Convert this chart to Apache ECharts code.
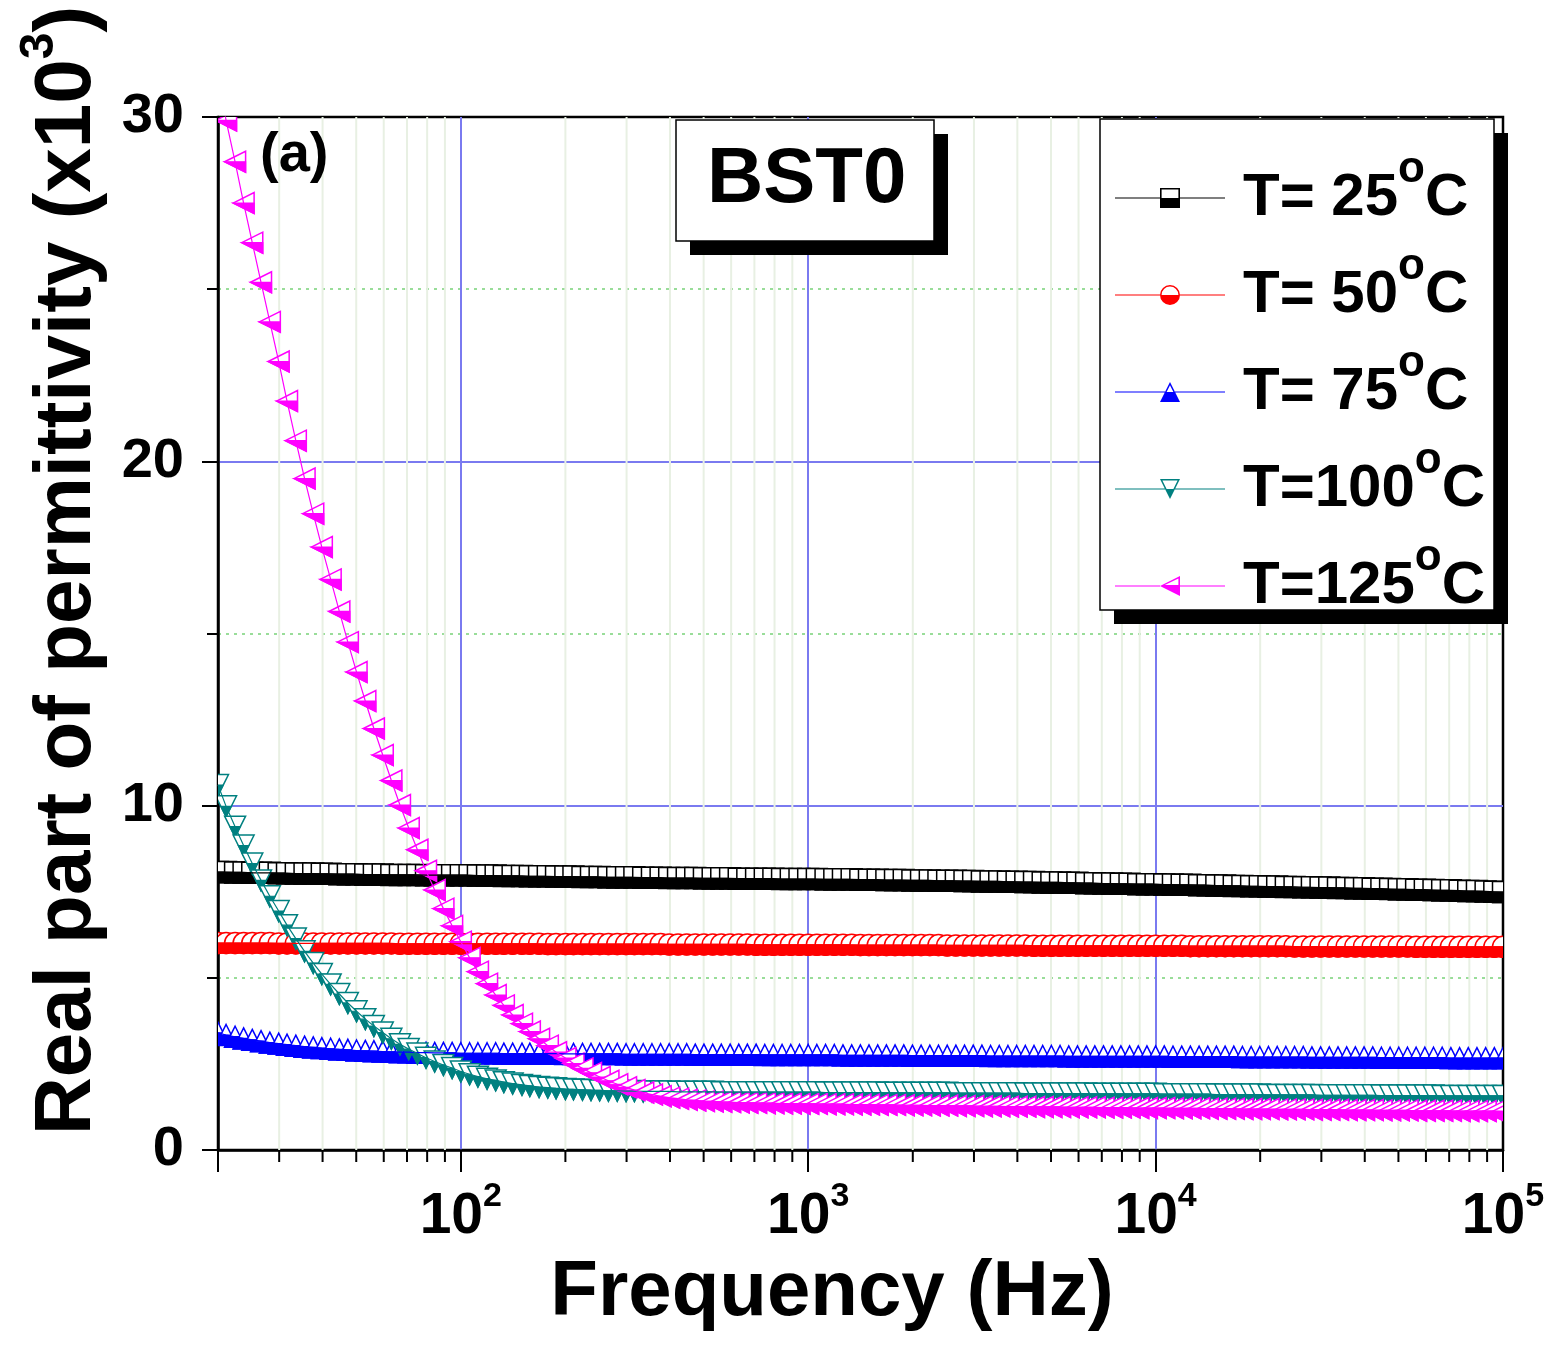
<!DOCTYPE html>
<html>
<head>
<meta charset="utf-8">
<title>BST0 real permittivity vs frequency</title>
<script src="https://cdn.jsdelivr.net/npm/echarts@6/dist/echarts.min.js"></script>
<style>
  html, body { margin: 0; padding: 0; background: #ffffff; }
  #chart { width: 1553px; height: 1347px; }
</style>
</head>
<body>
<div id="chart"></div>
<script>
// Measurement frequencies (Hz), 40 points per decade from 20 Hz to 100 kHz
const freqHz = [
  20, 21.1, 22.4, 23.7, 25.1, 26.6, 28.2, 29.9, 31.6, 33.5, 35.5, 37.6, 39.8, 42.2,
  44.7, 47.3, 50.1, 53.1, 56.2, 59.6, 63.1, 66.8, 70.8, 75.0, 79.4, 84.1, 89.1, 94.4,
  100, 106, 112, 119, 126, 133, 141, 150, 158, 168, 178, 188, 200, 211, 224, 237, 251, 266, 282, 299,
  316, 335, 355, 376, 398, 422, 447, 473, 501, 531, 562, 596, 631, 668, 708, 750, 794, 841, 891, 944,
  1000, 1059, 1122, 1189, 1259, 1334, 1413, 1496, 1585, 1679, 1778, 1884, 1995, 2113, 2239, 2371, 2512, 2661, 2818, 2985,
  3162, 3350, 3548, 3758, 3981, 4217, 4467, 4732, 5012, 5309, 5623, 5957, 6310, 6683, 7079, 7499, 7943, 8414, 8913, 9441,
  10000, 10590, 11220, 11890, 12590, 13340, 14130, 14960, 15850, 16790, 17780, 18840, 19950, 21130, 22390, 23710, 25120, 26610, 28180, 29850,
  31620, 33500, 35480, 37580, 39810, 42170, 44670, 47320, 50120, 53090, 56230, 59570, 63100, 66830, 70790, 74990, 79430, 84140, 89130, 94410,
  100000
];

// Real part of permittivity (x10^3) at each frequency
const epsT25 = [
  8.07, 8.07, 8.06, 8.06, 8.05, 8.05, 8.05, 8.04, 8.04, 8.03, 8.03, 8.03, 8.02, 8.02,
  8.01, 8.01, 8.01, 8.00, 8.00, 8.00, 7.99, 7.99, 7.99, 7.99, 7.98, 7.98, 7.98, 7.98,
  7.98, 7.98, 7.97, 7.97, 7.97, 7.96, 7.96, 7.96, 7.95, 7.95, 7.95, 7.94, 7.94, 7.94, 7.93, 7.93, 7.93, 7.92, 7.92, 7.92,
  7.92, 7.91, 7.91, 7.91, 7.90, 7.90, 7.90, 7.90, 7.89, 7.89, 7.89, 7.89, 7.88, 7.88, 7.88, 7.88, 7.88, 7.87, 7.87, 7.87,
  7.87, 7.87, 7.86, 7.86, 7.86, 7.86, 7.85, 7.85, 7.85, 7.84, 7.84, 7.84, 7.83, 7.83, 7.83, 7.82, 7.82, 7.82, 7.81, 7.81,
  7.80, 7.80, 7.80, 7.79, 7.79, 7.78, 7.78, 7.77, 7.77, 7.77, 7.76, 7.76, 7.75, 7.75, 7.74, 7.74, 7.73, 7.73, 7.72, 7.72,
  7.72, 7.71, 7.71, 7.70, 7.70, 7.69, 7.69, 7.68, 7.68, 7.67, 7.67, 7.66, 7.66, 7.65, 7.65, 7.64, 7.64, 7.63, 7.63, 7.62,
  7.62, 7.61, 7.61, 7.60, 7.60, 7.59, 7.59, 7.58, 7.57, 7.57, 7.56, 7.56, 7.55, 7.54, 7.54, 7.53, 7.52, 7.52, 7.51, 7.50,
  7.49
];
const epsT50 = [
  6.01, 6.01, 6.01, 6.01, 6.01, 6.01, 6.01, 6.00, 6.00, 6.00, 6.00, 6.00, 6.00, 6.00,
  6.00, 6.00, 6.00, 6.00, 6.00, 6.00, 6.00, 5.99, 5.99, 5.99, 5.99, 5.99, 5.99, 5.99,
  5.99, 5.99, 5.99, 5.99, 5.99, 5.99, 5.99, 5.99, 5.99, 5.99, 5.98, 5.98, 5.98, 5.98, 5.98, 5.98, 5.98, 5.98, 5.98, 5.98,
  5.98, 5.98, 5.98, 5.98, 5.97, 5.97, 5.97, 5.97, 5.97, 5.97, 5.97, 5.97, 5.97, 5.97, 5.96, 5.96, 5.96, 5.96, 5.96, 5.96,
  5.96, 5.96, 5.96, 5.96, 5.96, 5.96, 5.95, 5.95, 5.95, 5.95, 5.95, 5.95, 5.95, 5.95, 5.95, 5.95, 5.94, 5.94, 5.94, 5.94,
  5.94, 5.94, 5.94, 5.94, 5.94, 5.94, 5.93, 5.93, 5.93, 5.93, 5.93, 5.93, 5.93, 5.93, 5.93, 5.93, 5.93, 5.93, 5.93, 5.93,
  5.93, 5.93, 5.93, 5.93, 5.92, 5.92, 5.92, 5.92, 5.92, 5.92, 5.92, 5.92, 5.92, 5.92, 5.92, 5.92, 5.91, 5.91, 5.91, 5.91,
  5.91, 5.91, 5.91, 5.91, 5.91, 5.91, 5.91, 5.91, 5.91, 5.91, 5.90, 5.90, 5.90, 5.90, 5.90, 5.90, 5.90, 5.90, 5.90, 5.90,
  5.90
];
const epsT75 = [
  3.40, 3.34, 3.29, 3.24, 3.20, 3.16, 3.12, 3.09, 3.06, 3.03, 3.00, 2.98, 2.96, 2.94,
  2.92, 2.91, 2.89, 2.88, 2.87, 2.86, 2.85, 2.84, 2.84, 2.83, 2.83, 2.82, 2.82, 2.82,
  2.81, 2.81, 2.81, 2.81, 2.81, 2.80, 2.80, 2.80, 2.80, 2.80, 2.80, 2.80, 2.79, 2.79, 2.79, 2.79, 2.79, 2.79, 2.79, 2.78,
  2.78, 2.78, 2.78, 2.78, 2.78, 2.78, 2.78, 2.77, 2.77, 2.77, 2.77, 2.77, 2.77, 2.77, 2.77, 2.76, 2.76, 2.76, 2.76, 2.76,
  2.76, 2.76, 2.76, 2.76, 2.75, 2.75, 2.75, 2.75, 2.75, 2.75, 2.75, 2.75, 2.74, 2.74, 2.74, 2.74, 2.74, 2.74, 2.74, 2.74,
  2.74, 2.73, 2.73, 2.73, 2.73, 2.73, 2.73, 2.73, 2.73, 2.73, 2.72, 2.72, 2.72, 2.72, 2.72, 2.72, 2.72, 2.72, 2.72, 2.72,
  2.72, 2.72, 2.71, 2.71, 2.71, 2.71, 2.71, 2.71, 2.71, 2.71, 2.70, 2.70, 2.70, 2.70, 2.70, 2.70, 2.70, 2.70, 2.69, 2.69,
  2.69, 2.69, 2.69, 2.69, 2.69, 2.69, 2.68, 2.68, 2.68, 2.68, 2.68, 2.68, 2.68, 2.68, 2.67, 2.67, 2.67, 2.67, 2.67, 2.67,
  2.67
];
const epsT100 = [
  10.60, 9.98, 9.39, 8.84, 8.32, 7.83, 7.37, 6.94, 6.53, 6.14, 5.77, 5.43, 5.11, 4.81,
  4.53, 4.27, 4.03, 3.80, 3.60, 3.41, 3.23, 3.07, 2.93, 2.80, 2.68, 2.57, 2.47, 2.38,
  2.28, 2.20, 2.13, 2.07, 2.02, 1.97, 1.93, 1.89, 1.86, 1.83, 1.81, 1.79, 1.77, 1.76, 1.75, 1.74, 1.73, 1.72, 1.72, 1.71,
  1.71, 1.70, 1.70, 1.70, 1.70, 1.69, 1.69, 1.69, 1.69, 1.69, 1.68, 1.68, 1.68, 1.68, 1.68, 1.68, 1.68, 1.68, 1.68, 1.68,
  1.68, 1.68, 1.67, 1.67, 1.67, 1.67, 1.67, 1.67, 1.67, 1.66, 1.66, 1.66, 1.66, 1.66, 1.66, 1.66, 1.66, 1.65, 1.65, 1.65,
  1.65, 1.65, 1.65, 1.65, 1.65, 1.64, 1.64, 1.64, 1.64, 1.64, 1.64, 1.64, 1.64, 1.63, 1.63, 1.63, 1.63, 1.63, 1.63, 1.63,
  1.63, 1.62, 1.62, 1.62, 1.62, 1.62, 1.62, 1.61, 1.61, 1.61, 1.61, 1.61, 1.61, 1.60, 1.60, 1.60, 1.60, 1.60, 1.60, 1.59,
  1.59, 1.59, 1.59, 1.59, 1.59, 1.59, 1.58, 1.58, 1.58, 1.58, 1.58, 1.58, 1.58, 1.57, 1.57, 1.57, 1.57, 1.57, 1.57, 1.57,
  1.57
];
const epsT125 = [
  31.20, 29.90, 28.70, 27.50, 26.35, 25.20, 24.05, 22.90, 21.75, 20.60, 19.50, 18.48, 17.51, 16.57,
  15.64, 14.75, 13.88, 13.04, 12.24, 11.47, 10.73, 10.02, 9.35, 8.72, 8.11, 7.55, 7.01, 6.51,
  6.05, 5.58, 5.18, 4.83, 4.50, 4.20, 3.92, 3.67, 3.44, 3.23, 3.03, 2.84, 2.67, 2.51, 2.37, 2.24, 2.12, 2.01, 1.91, 1.82,
  1.74, 1.67, 1.61, 1.56, 1.52, 1.49, 1.46, 1.44, 1.42, 1.41, 1.40, 1.39, 1.38, 1.37, 1.37, 1.36, 1.36, 1.35, 1.35, 1.34,
  1.34, 1.34, 1.33, 1.33, 1.33, 1.32, 1.32, 1.32, 1.31, 1.31, 1.31, 1.30, 1.30, 1.30, 1.29, 1.29, 1.29, 1.28, 1.28, 1.28,
  1.27, 1.27, 1.27, 1.26, 1.26, 1.26, 1.25, 1.25, 1.25, 1.25, 1.24, 1.24, 1.24, 1.24, 1.23, 1.23, 1.23, 1.23, 1.22, 1.22,
  1.22, 1.22, 1.21, 1.21, 1.21, 1.21, 1.20, 1.20, 1.20, 1.20, 1.19, 1.19, 1.19, 1.19, 1.18, 1.18, 1.18, 1.18, 1.17, 1.17,
  1.17, 1.17, 1.16, 1.16, 1.16, 1.16, 1.15, 1.15, 1.15, 1.15, 1.14, 1.14, 1.14, 1.14, 1.14, 1.13, 1.13, 1.13, 1.13, 1.13,
  1.12
];

const seriesNames = ['T= 25°C', 'T= 50°C', 'T= 75°C', 'T=100°C', 'T=125°C'];
const legendLabels = ['T= 25', 'T= 50', 'T= 75', 'T=100', 'T=125'];
const seriesColors = ['#000000', '#ff0000', '#0000ff', '#008080', '#ff00ff'];
const markerKinds = ['square', 'circle', 'triangleUp', 'triangleDown', 'triangleLeft'];

// Intermediate (2..9 x 10^n) frequencies for the light grid lines and short ticks
const minorFreqs = [
  30, 40, 50, 60, 70, 80, 90,
  200, 300, 400, 500, 600, 700, 800, 900,
  2000, 3000, 4000, 5000, 6000, 7000, 8000, 9000,
  20000, 30000, 40000, 50000, 60000, 70000, 80000, 90000
];

const FONT = "'Liberation Sans', Arial, Helvetica, sans-serif";
const MARKER_HALF = 10.5;

// Legend glyphs: line stub + half-filled symbol (the hollow upper half is a hole in the path)
const legendIcons = [
  'path://M0 9.4H45V10.6H0Z M65 9.4H110V10.6H65Z M45 0H65V20H45Z M46.6 1.6V10H63.4V1.6Z',
  'path://M0 9.4H45V10.6H0Z M65 9.4H110V10.6H65Z M45 10A10 10 0 1 1 65 10A10 10 0 1 1 45 10Z M46.6 10L63.4 10A8.4 8.4 0 0 0 46.6 10Z',
  'path://M0 9.4H50V10.6H0Z M60 9.4H110V10.6H60Z M55 0L65 20L45 20Z M55 3.2L51.6 10L58.4 10Z',
  'path://M0 9.4H50V10.6H0Z M60 9.4H110V10.6H60Z M45 0L65 0L55 20Z M47.4 1.6L51.6 10L58.4 10L62.6 1.6Z',
  'path://M0 9.4H45V10.6H0Z M65 9.4H110V10.6H65Z M45 10L65 0L65 20Z M49.8 8.9L63.4 8.9L63.4 2.4Z'
];

function halfFilledMarker(kind, color, h) {
  const open = { style: { fill: '#ffffff', stroke: color, lineWidth: 1.5 } };
  const solid = { style: { fill: color, stroke: color, lineWidth: 1.2 } };
  switch (kind) {
    case 'square':
      return [
        Object.assign({ type: 'rect', shape: { x: -h, y: -h, width: 2 * h, height: 2 * h } }, open),
        Object.assign({ type: 'rect', shape: { x: -h, y: 0, width: 2 * h, height: h } }, solid)
      ];
    case 'circle':
      return [
        Object.assign({ type: 'circle', shape: { cx: 0, cy: 0, r: h } }, open),
        Object.assign({ type: 'sector', shape: { cx: 0, cy: 0, r0: 0, r: h, startAngle: 0, endAngle: Math.PI, clockwise: true } }, solid)
      ];
    case 'triangleUp':
      return [
        Object.assign({ type: 'polygon', shape: { points: [[0, -h], [h, h], [-h, h]] } }, open),
        Object.assign({ type: 'polygon', shape: { points: [[-h / 2, 0], [h / 2, 0], [h, h], [-h, h]] } }, solid)
      ];
    case 'triangleDown':
      return [
        Object.assign({ type: 'polygon', shape: { points: [[-h, -h], [h, -h], [0, h]] } }, open),
        Object.assign({ type: 'polygon', shape: { points: [[-h / 2, 0], [h / 2, 0], [0, h]] } }, solid)
      ];
    default: // triangleLeft
      return [
        Object.assign({ type: 'polygon', shape: { points: [[-h, 0], [h, -h], [h, h]] } }, open),
        Object.assign({ type: 'polygon', shape: { points: [[-h, 0], [h, 0], [h, h]] } }, solid)
      ];
  }
}

const allValues = [epsT25, epsT50, epsT75, epsT100, epsT125];
const toPairs = vals => freqHz.map((f, i) => [f, vals[i]]);

const series = [];

// light vertical grid lines and short ticks at 2..9 x 10^n
series.push({
  type: 'custom',
  name: 'minor-grid',
  silent: true,
  z: 1,
  clip: false,
  animation: false,
  encode: { x: 0, y: 1 },
  data: minorFreqs.map(f => [f, 0]),
  renderItem: function (params, api) {
    const bottom = api.coord([api.value(0), 0]);
    const top = api.coord([api.value(0), 30]);
    return {
      type: 'group',
      children: [
        { type: 'line', shape: { x1: bottom[0], y1: top[1], x2: bottom[0], y2: bottom[1] },
          style: { stroke: '#e8f0e3', lineWidth: 2 } },
        { type: 'line', shape: { x1: bottom[0], y1: bottom[1], x2: bottom[0], y2: bottom[1] + 12 },
          style: { stroke: '#000000', lineWidth: 2 } }
      ]
    };
  }
});

allValues.forEach(function (vals, i) {
  const color = seriesColors[i];
  const kind = markerKinds[i];
  series.push({
    type: 'line',
    name: seriesNames[i],
    data: toPairs(vals),
    symbol: 'none',
    showSymbol: false,
    animation: false,
    clip: true,
    z: 2,
    itemStyle: { color: color },
    lineStyle: { color: color, width: 1.2 }
  });
  series.push({
    type: 'custom',
    name: seriesNames[i],
    data: toPairs(vals),
    encode: { x: 0, y: 1 },
    clip: true,
    z: 2,
    animation: false,
    itemStyle: { color: color },
    renderItem: function (params, api) {
      const p = api.coord([api.value(0), api.value(1)]);
      return { type: 'group', x: p[0], y: p[1], children: halfFilledMarker(kind, color, MARKER_HALF) };
    }
  });
});

const chart = echarts.init(document.getElementById('chart'), null, { renderer: 'canvas' });

chart.setOption({
  backgroundColor: '#ffffff',
  animation: false,
  // framed boxes with a solid drop shadow behind the sample tag and the legend
  graphic: [
    { type: 'rect', z: 3, silent: true, shape: { x: 690, y: 134, width: 258, height: 121 }, style: { fill: '#000000' } },
    { type: 'rect', z: 3, silent: true, shape: { x: 676, y: 120, width: 258, height: 121 }, style: { fill: '#ffffff', stroke: '#000000', lineWidth: 1.5 } },
    { type: 'rect', z: 3, silent: true, shape: { x: 1114, y: 133, width: 394, height: 491 }, style: { fill: '#000000' } },
    { type: 'rect', z: 3, silent: true, shape: { x: 1100, y: 119, width: 394, height: 491 }, style: { fill: '#ffffff', stroke: '#000000', lineWidth: 1.5 } }
  ],
  title: [
    {
      text: 'BST0',
      left: 676, top: 120,
      padding: [21, 30, 22, 31],
      textStyle: { fontFamily: FONT, fontSize: 78, fontWeight: 'bold', color: '#000000', lineHeight: 78 }
    },
    {
      text: '(a)',
      left: 260, top: 128,
      padding: 0,
      textStyle: { fontFamily: FONT, fontSize: 56, fontWeight: 'bold', color: '#000000' }
    }
  ],
  legend: {
    orient: 'vertical',
    left: 1100, top: 119,
    selectedMode: false,
    data: seriesNames.map((n, i) => ({ name: n, icon: legendIcons[i], itemStyle: { color: seriesColors[i], borderWidth: 0 } })),
    itemWidth: 110, itemHeight: 20, itemGap: 17,
    padding: [29, 0, 0, 15],
    backgroundColor: 'transparent',
    borderWidth: 0,
    formatter: name => '{t|' + legendLabels[seriesNames.indexOf(name)] + '}{s|o}{t|C}',
    textStyle: {
      color: '#000000',
      padding: [0, 0, 0, 13],
      rich: {
        t: { fontFamily: FONT, fontSize: 60, fontWeight: 'bold', color: '#000000', lineHeight: 100 },
        s: { fontFamily: FONT, fontSize: 44, fontWeight: 'bold', color: '#000000', lineHeight: 44, verticalAlign: 'top' }
      }
    }
  },
  grid: {
    left: 218, right: 50, top: 117, bottom: 197,
    show: true, borderColor: '#000000', borderWidth: 2.5, backgroundColor: 'transparent'
  },
  xAxis: {
    type: 'log', logBase: 10, min: 20, max: 100000,
    name: 'Frequency (Hz)', nameLocation: 'middle', nameGap: 104,
    nameTextStyle: { fontFamily: FONT, fontSize: 78, fontWeight: 'bold', color: '#000000', padding: [0, 57, 0, 0] },
    axisLine: { show: true, onZero: false, lineStyle: { color: '#000000', width: 2.5 } },
    axisTick: { show: true, inside: false, length: 22, lineStyle: { color: '#000000', width: 2 } },
    splitLine: { show: true, showMinLine: false, showMaxLine: false, lineStyle: { color: '#7a7af0', width: 2 } },
    axisLabel: {
      margin: 30,
      formatter: function (v) {
        const e = Math.log10(v);
        if (Math.abs(e - Math.round(e)) > 1e-6) return '';
        return '{b|10}{s|' + Math.round(e) + '}';
      },
      rich: {
        b: { fontFamily: FONT, fontSize: 57, fontWeight: 'bold', color: '#000000', lineHeight: 66, verticalAlign: 'bottom' },
        s: { fontFamily: FONT, fontSize: 34, fontWeight: 'bold', color: '#000000', lineHeight: 34, verticalAlign: 'top' }
      }
    }
  },
  yAxis: {
    type: 'value', min: 0, max: 30, interval: 10,
    name: '{n|Real part of permittivity (x10}{s|3}{n|)}',
    nameLocation: 'middle', nameGap: 110,
    nameTextStyle: {
      padding: [0, 0, 0, 126],
      rich: {
        n: { fontFamily: FONT, fontSize: 80, fontWeight: 'bold', color: '#000000', lineHeight: 92, verticalAlign: 'bottom' },
        s: { fontFamily: FONT, fontSize: 48, fontWeight: 'bold', color: '#000000', lineHeight: 48, verticalAlign: 'top' }
      }
    },
    axisLine: { show: true, lineStyle: { color: '#000000', width: 2.5 } },
    axisTick: { show: true, inside: false, length: 16, lineStyle: { color: '#000000', width: 2 } },
    minorTick: { show: true, splitNumber: 2, length: 11, lineStyle: { color: '#000000', width: 2 } },
    splitLine: { show: true, showMinLine: false, showMaxLine: false, lineStyle: { color: '#7a7af0', width: 2 } },
    minorSplitLine: { show: true, lineStyle: { color: '#99dd99', width: 2, type: [3, 5] } },
    axisLabel: { margin: 34, fontFamily: FONT, fontSize: 56, fontWeight: 'bold', color: '#000000' }
  },
  series: series
});
</script>
</body>
</html>
